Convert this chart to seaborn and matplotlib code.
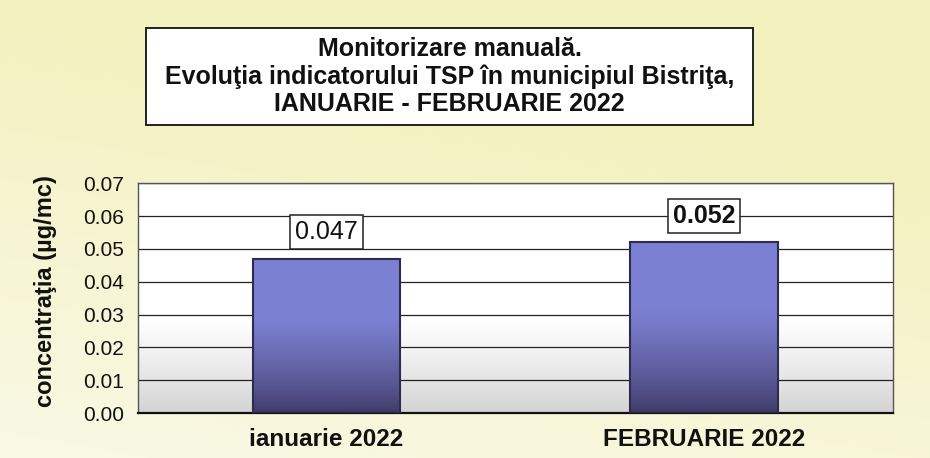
import numpy as np
import pandas as pd
import seaborn as sns
import matplotlib.pyplot as plt
from matplotlib.patches import Rectangle

months = ["ianuarie 2022", "FEBRUARIE 2022"]
tsp = [0.047, 0.052]
yticks = [0.00, 0.01, 0.02, 0.03, 0.04, 0.05, 0.06, 0.07]
title = ("Monitorizare manuală.\n"
         "Evoluţia indicatorului TSP în municipiul Bistriţa,\n"
         "IANUARIE - FEBRUARIE 2022")
ylabel = "concentraţia (µg/mc)"

df = pd.DataFrame({"luna": months, "tsp": tsp})

sns.set_theme(style="white")
plt.rcParams["font.family"] = ["Liberation Sans", "DejaVu Sans"]

fig = plt.figure(figsize=(9.3, 4.58), dpi=100)

# pale yellow page background, fading to white at the bottom left
bg = fig.add_axes([0, 0, 1, 1], zorder=-5)
yy, xx = np.mgrid[0:1:200j, 0:1:300j]
t = np.clip(0.3 + 0.7 * yy + 0.25 * xx, 0, 1)[..., None]
yellow = np.array([243, 241, 190]) / 255
white = np.array([252, 252, 246]) / 255
bg.imshow(white + (yellow - white) * t, extent=[0, 1, 0, 1], aspect="auto", origin="lower")
bg.axis("off")

ax = fig.add_axes([0.148, 0.098, 0.812, 0.502])
ax.patch.set_alpha(0)

# plot area: white on top, grey towards the bottom
g = np.linspace(0, 1, 256)
shade = np.clip((0.42 - g) / 0.42, 0, 1) ** 1.2
col = np.repeat((1.0 - 0.17 * shade)[:, None], 2, axis=1)
area = np.dstack([col, col, col])
ax.imshow(area, extent=[0, 1, 0, 1], transform=ax.transAxes, aspect="auto",
          origin="lower", zorder=0)

sns.barplot(data=df, x="luna", y="tsp", width=0.39, color="#7478c8",
            edgecolor="#2e2c4e", linewidth=1.5, ax=ax, zorder=3)

# blue to dark-violet gradient inside each bar
top = np.array([124, 128, 210]) / 255
bot = np.array([60, 54, 98]) / 255
s = np.linspace(0, 1, 256)
w = np.clip(s / 0.6, 0, 1) ** 0.7
bar_grad = (bot + (top - bot) * w[:, None])[:, None, :].repeat(2, axis=1)
for p in ax.patches:
    x0, y0 = p.get_x(), p.get_y()
    im = ax.imshow(bar_grad, extent=[x0, x0 + p.get_width(), y0, y0 + p.get_height()],
                   aspect="auto", origin="lower", zorder=2)
    im.set_clip_path(p)
    p.set_facecolor("none")

for i, v in enumerate(tsp):
    ax.text(i, v + 0.0081, f"{v:.3f}", ha="center", va="center", fontsize=18,
            fontweight="bold" if i == 1 else "normal", color="#111111", zorder=5,
            bbox=dict(boxstyle="square,pad=0.2", fc="white", ec="#222222", lw=1.1))

ax.set_xlim(-0.5, 1.5)
ax.set_ylim(0, 0.07)
ax.set_yticks(yticks)
ax.set_yticklabels([f"{v:.2f}" for v in yticks])
ax.yaxis.grid(True, color="#222222", linewidth=0.9)
ax.set_axisbelow(True)

ax.set_xticks([-0.5, 0.5, 1.5], minor=True)
ax.tick_params(axis="x", which="major", length=0, pad=11, labelsize=17.5)
ax.tick_params(axis="x", which="minor", length=7, width=1, color="#333333", direction="out")
ax.tick_params(axis="y", length=4, width=0.8, color="#777777", direction="out",
               labelsize=15, pad=6, labelcolor="#111111")
for lab in ax.get_xticklabels():
    lab.set_fontweight("bold")
    lab.set_color("#111111")

ax.set_xlabel("")
ax.set_ylabel(ylabel, fontsize=17, fontweight="bold", color="#111111")
ax.yaxis.set_label_coords(-0.107, 0.53)

for side in ["top", "right", "left"]:
    ax.spines[side].set_color("#555555")
    ax.spines[side].set_linewidth(1.0)
ax.spines["bottom"].set_color("#111111")
ax.spines["bottom"].set_linewidth(1.6)

# title box
fig.add_artist(Rectangle((0.157, 0.727), 0.653, 0.212, transform=fig.transFigure,
                         fc="white", ec="#111111", lw=1.3))
fig.text(0.4833, 0.833, title, ha="center", va="center", fontsize=18,
         fontweight="bold", color="#111111", linespacing=1.15, multialignment="center")

fig.savefig("out.png", dpi=100)
